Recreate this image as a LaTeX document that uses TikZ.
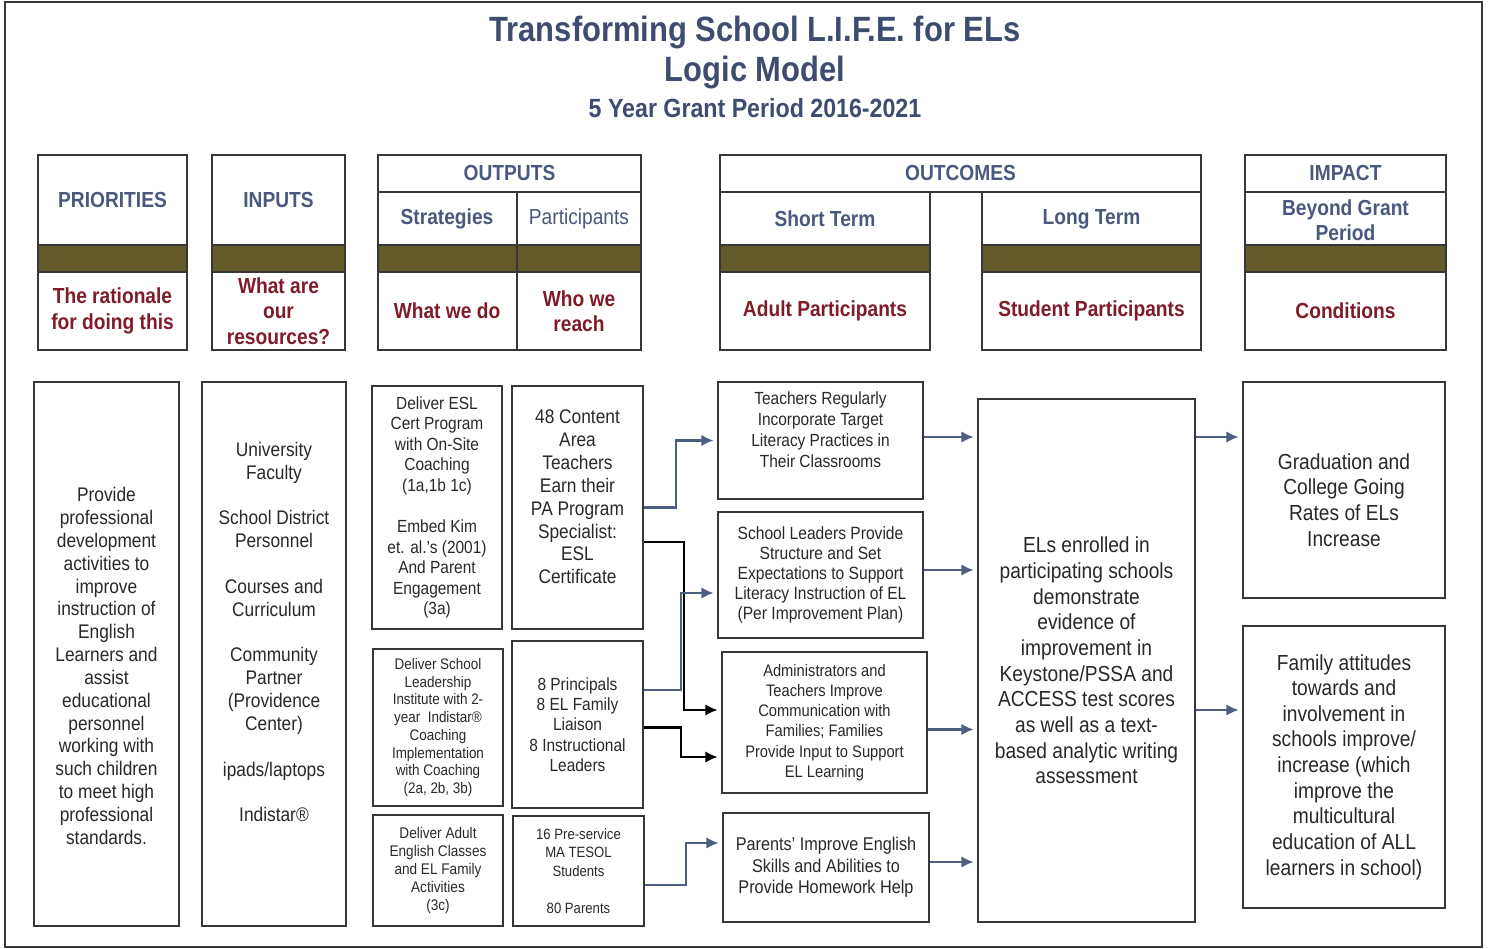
\documentclass[tikz,border=0pt]{standalone}
\usepackage{fontspec}
\setmainfont{Liberation Sans}[FakeStretch=0.88]
\usetikzlibrary{arrows.meta,calc}

\definecolor{titleblue}{RGB}{62,76,112}
\definecolor{hdrblue}{RGB}{72,88,126}
\definecolor{hdrred}{RGB}{128,28,40}
\definecolor{bandolive}{RGB}{98,90,40}
\definecolor{boxgrey}{RGB}{55,55,55}
\definecolor{arrowblue}{RGB}{78,94,130}
\definecolor{bodytext}{RGB}{40,40,40}

\tikzset{
  box/.style={draw=boxgrey, line width=1pt, align=center, inner sep=1pt, text=bodytext},
  hdrbox/.style={draw=boxgrey, line width=1pt, inner sep=0pt},
  hdrline/.style={draw=boxgrey, line width=1pt},
  band/.style={draw=boxgrey, fill=bandolive, line width=0.6pt, minimum height=0.54cm, inner sep=0pt},
  hdrtxt/.style={font=\fontsize{12.4}{14.5}\selectfont\bfseries, text=hdrblue, align=center},
  redtxt/.style={font=\fontsize{12.4}{14.5}\selectfont\bfseries, text=hdrred, align=center},
  bluarrow/.style={draw=arrowblue, line width=1.2pt, -{Latex[length=7pt,width=6.5pt]}, shorten >=2pt},
  blkarrow/.style={draw=black, line width=1.2pt, -{Latex[length=7pt,width=6.5pt]}, shorten >=2pt},
}

\begin{document}
\begin{tikzpicture}[x=0.02cm, y=-0.02cm]
    \useasboundingbox (0,0) rectangle (1489,949);
    \draw[boxgrey, line width=1.2pt] (5,2) rectangle (1482,947);

    % title
    \node[font=\fontsize{20}{24}\selectfont\bfseries, text=titleblue] (title) at (755,32) {Transforming School L.I.F.E. for ELs};
    \node[font=\fontsize{20}{24}\selectfont\bfseries, text=titleblue] (logic) at (755,72) {Logic Model};
    \node[font=\fontsize{15}{18}\selectfont\bfseries, text=titleblue] (period) at (755,108) {5 Year Grant Period 2016-2021};

    % column headers
    \node[hdrbox, minimum width=2.98cm, minimum height=3.9cm] (prio) at (112.5,252.5) {};
    \node[band, minimum width=2.98cm] (prioband) at (112.5,258.5) {};
    \node[hdrtxt] (priotitle) at (112.5,200) {PRIORITIES};
    \node[redtxt] (priosub) at (112.5,311) {The rationale\\for doing this};

    \node[hdrbox, minimum width=2.66cm, minimum height=3.9cm] (inp) at (278.5,252.5) {};
    \node[band, minimum width=2.66cm] (inpband) at (278.5,258.5) {};
    \node[hdrtxt] (inptitle) at (278.5,200) {INPUTS};
    \node[redtxt] (inpsub) at (278.5,311) {What are\\our\\resources?};

    \node[hdrbox, minimum width=5.26cm, minimum height=3.9cm] (outp) at (509.5,252.5) {};
    \node[band, minimum width=5.26cm] (outpband) at (509.5,258.5) {};
    \draw[hdrline] (378,192) -- (641,192);
    \draw[hdrline] (517,192) -- (517,350);
    \node[hdrtxt] (outptitle) at (509.5,173) {OUTPUTS};
    \node[hdrtxt] (strattitle) at (447,219) {Strategies};
    \node[hdrtxt, font=\fontsize{12.4}{14.5}\selectfont] (parttitle) at (579,219) {Participants};
    \node[redtxt] (stratsub) at (447,311) {What we do};
    \node[redtxt] (partsub) at (579,311) {Who we\\reach};

    \node[hdrbox, minimum width=9.62cm, minimum height=0.74cm] (outc) at (960.5,173.5) {};
    \node[hdrbox, minimum width=4.2cm, minimum height=3.16cm] (short) at (825,271) {};
    \node[hdrbox, minimum width=4.38cm, minimum height=3.16cm] (long) at (1091.5,271) {};
    \node[band, minimum width=4.2cm] (shortband) at (825,258.5) {};
    \node[band, minimum width=4.38cm] (longband) at (1091.5,258.5) {};
    \node[hdrtxt] (outctitle) at (960.5,173) {OUTCOMES};
    \node[hdrtxt] (shorttitle) at (825,219) {Short Term};
    \node[hdrtxt] (longtitle) at (1091.5,219) {Long Term};
    \node[redtxt] (shortsub) at (825,311) {Adult Participants};
    \node[redtxt] (longsub) at (1091.5,311) {Student Participants};

    \node[hdrbox, minimum width=4.02cm, minimum height=3.9cm] (imp) at (1345.5,252.5) {};
    \node[band, minimum width=4.02cm] (impband) at (1345.5,258.5) {};
    \draw[hdrline] (1245,192) -- (1446,192);
    \node[hdrtxt] (imptitle) at (1345.5,173) {IMPACT};
    \node[hdrtxt] (impterm) at (1345.5,220) {Beyond Grant\\Period};
    \node[redtxt] (impsub) at (1345.5,311) {Conditions};

    % priorities and inputs
    \node[box, minimum width=2.9cm, minimum height=10.88cm] (priority) at (106.5,654) {};
    \node[align=center, text=bodytext, font=\fontsize{11.2}{13}\selectfont] (prioritytext) at (106.5,666)
        {Provide\\professional\\development\\activities to\\improve\\instruction of\\English\\Learners and\\assist\\educational\\personnel\\working with\\such children\\to meet high\\professional\\standards.};
    \node[box, minimum width=2.88cm, minimum height=10.88cm] (inputs) at (274,654) {};
    \node[align=center, text=bodytext, font=\fontsize{11.2}{13}\selectfont] (inputtext) at (274,632)
        {University\\Faculty\\[13pt]School District\\Personnel\\[13pt]Courses and\\Curriculum\\[13pt]Community\\Partner\\(Providence\\Center)\\[13pt]ipads/laptops\\[13pt]Indistar®};

    % outputs
    \node[box, minimum width=2.6cm, minimum height=4.86cm, font=\fontsize{10}{11.7}\selectfont] (stratA) at (437,507.5)
        {Deliver ESL\\Cert Program\\with On-Site\\Coaching\\(1a,1b 1c)\\[11.7pt]Embed Kim\\et. al.'s (2001)\\And Parent\\Engagement\\(3a)};
    \node[box, minimum width=2.62cm, minimum height=4.86cm, font=\fontsize{11.2}{13}\selectfont, text depth=12pt] (partA) at (577.5,507.5)
        {48 Content\\Area\\Teachers\\Earn their\\PA Program\\Specialist:\\ESL\\Certificate};
    \node[box, minimum width=2.6cm, minimum height=3.14cm, font=\fontsize{8.7}{10.1}\selectfont] (stratB) at (438,727.5)
        {Deliver School\\Leadership\\Institute with 2-\\year\ \ Indistar®\\Coaching\\Implementation\\with Coaching\\(2a, 2b, 3b)};
    \node[box, minimum width=2.62cm, minimum height=3.34cm, font=\fontsize{10}{11.6}\selectfont] (partB) at (577.5,724.5)
        {8 Principals\\8 EL Family\\Liaison\\8 Instructional\\Leaders};
    \node[box, minimum width=2.6cm, minimum height=2.22cm, font=\fontsize{8.8}{10.3}\selectfont] (stratC) at (438,870.5)
        {Deliver Adult\\English Classes\\and EL Family\\Activities\\(3c)};
    \node[box, minimum width=2.62cm, minimum height=2.2cm, font=\fontsize{8.5}{10.5}\selectfont] (partC) at (578.5,871)
        {16 Pre-service\\MA TESOL\\Students\\[10.5pt]80 Parents};

    % short term outcomes
    \node[box, minimum width=4.1cm, minimum height=2.34cm, font=\fontsize{10}{11.9}\selectfont, text depth=12pt] (teach) at (820.5,440.5)
        {Teachers Regularly\\Incorporate Target\\Literacy Practices in\\Their Classrooms};
    \node[box, minimum width=4.1cm, minimum height=2.52cm, font=\fontsize{10.1}{11.5}\selectfont] (lead) at (820.5,575)
        {School Leaders Provide\\Structure and Set\\Expectations to Support\\Literacy Instruction of EL\\(Per Improvement Plan)};
    \node[box, minimum width=4.1cm, minimum height=2.82cm, font=\fontsize{9.5}{11.5}\selectfont] (admin) at (824.5,722.5)
        {Administrators and\\Teachers Improve\\Communication with\\Families; Families\\Provide Input to Support\\EL Learning};
    \node[box, minimum width=4.12cm, minimum height=2.18cm, font=\fontsize{10.5}{12.2}\selectfont] (parent) at (826,867.5)
        {Parents' Improve English\\Skills and Abilities to\\Provide Homework Help};

    % long term outcome and impact
    \node[box, minimum width=4.34cm, minimum height=10.46cm, font=\fontsize{12.4}{14.6}\selectfont] (longterm) at (1086.5,660.5)
        {ELs enrolled in\\participating schools\\demonstrate\\evidence of\\improvement in\\Keystone/PSSA and\\ACCESS test scores\\as well as a text-\\based analytic writing\\assessment};
    \node[box, minimum width=4.04cm, minimum height=4.32cm] (grad) at (1344,490) {};
    \node[align=center, text=bodytext, font=\fontsize{12.4}{14.6}\selectfont] (gradtext) at (1344,500)
        {Graduation and\\College Going\\Rates of ELs\\Increase};
    \node[box, minimum width=4.04cm, minimum height=5.64cm, font=\fontsize{12.4}{14.6}\selectfont] (family) at (1344,767)
        {Family attitudes\\towards and\\involvement in\\schools improve/\\increase (which\\improve the\\multicultural\\education of ALL\\learners in school)};

    % participants to short term outcomes
    \draw[bluarrow] (partA.east) -- ++(32,0) |- (teach);
    \draw[blkarrow] ($(partA.east)+(0,34.5)$) -- ++(40,0) |- ($(admin.west)+(0,-12.5)$);
    \draw[bluarrow] ($(partB.east)+(0,-34.5)$) -- ++(37,0) |- ($(lead.west)+(0,18)$);
    \draw[blkarrow] ($(partB.east)+(0,3)$) -- ++(37,0) |- ($(admin.west)+(0,34.5)$);
    \draw[bluarrow] ($(partC.east)+(0,14)$) -- ++(41,0) |- ($(parent.west)+(0,-24.5)$);

    % short term to long term
    \coordinate (teachout) at ($(teach.east)+(0,-3.5)$);
    \coordinate (leadout) at ($(lead.east)+(0,-5)$);
    \coordinate (adminout) at ($(admin.east)+(0,7)$);
    \coordinate (parentout) at ($(parent.east)+(0,-5.5)$);
    \draw[bluarrow] (teachout) -- (teachout -| longterm.west);
    \draw[bluarrow] (leadout) -- (leadout -| longterm.west);
    \draw[bluarrow] (adminout) -- (adminout -| longterm.west);
    \draw[bluarrow] (parentout) -- (parentout -| longterm.west);

    % long term to impact
    \coordinate (gradin) at ($(grad.west)+(0,-53)$);
    \coordinate (famin) at ($(family.west)+(0,-57)$);
    \draw[bluarrow] (gradin -| longterm.east) -- (gradin);
    \draw[bluarrow] (famin -| longterm.east) -- (famin);
\end{tikzpicture}
\end{document}
